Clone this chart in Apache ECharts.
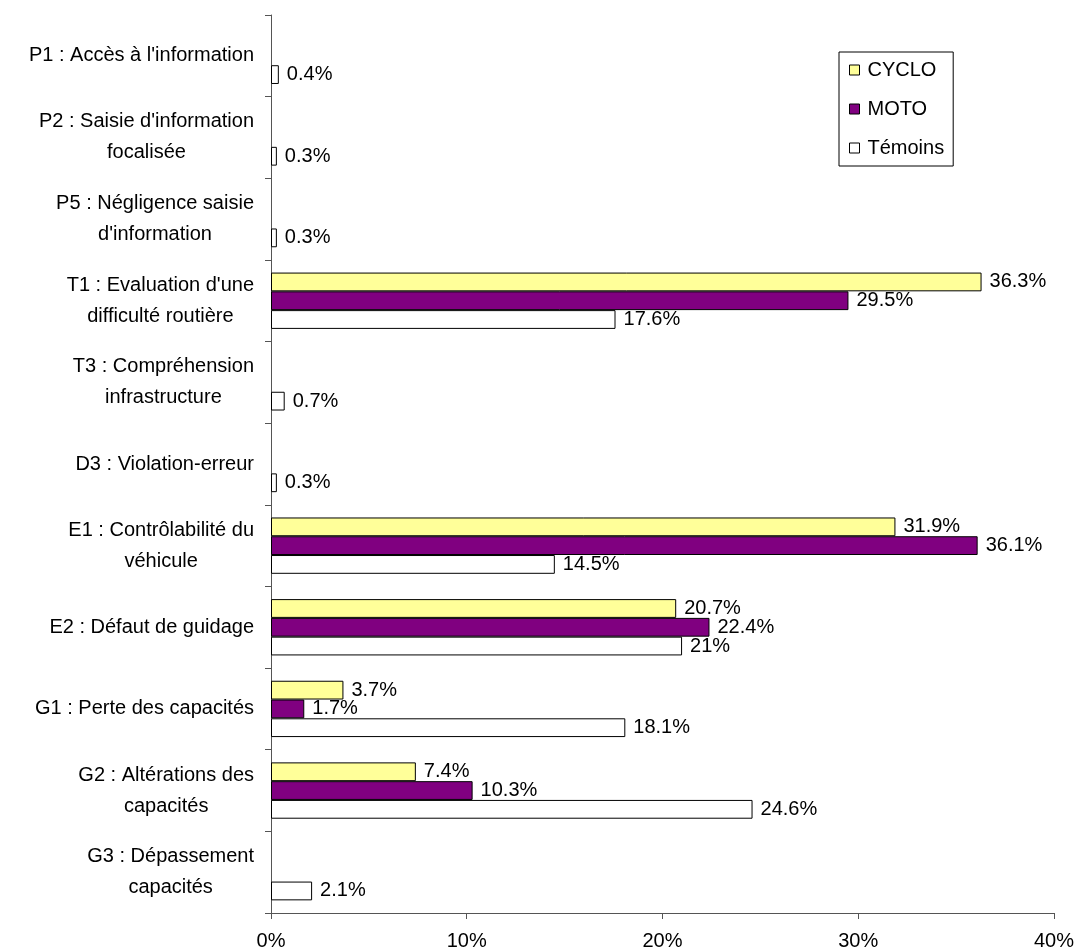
<!DOCTYPE html>
<html>
<head>
<meta charset="utf-8">
<script src="https://cdn.jsdelivr.net/npm/echarts@6/dist/echarts.min.js"></script>
<style>
html,body{margin:0;padding:0;background:#fff;}
#chart{width:1077px;height:952px;}
</style>
</head>
<body>
<div id="chart"></div>
<script>
var categories = [
  "P1 : Accès à l'information",
  "P2 : Saisie d'information\nfocalisée",
  "P5 : Négligence saisie\nd'information",
  "T1 : Evaluation d'une\ndifficulté routière",
  "T3 : Compréhension\ninfrastructure",
  "D3 : Violation-erreur",
  "E1 : Contrôlabilité du\nvéhicule",
  "E2 : Défaut de guidage",
  "G1 : Perte des capacités",
  "G2 : Altérations des\ncapacités",
  "G3 : Dépassement\ncapacités"
];
var cyclo   = [null, null, null, 36.3, null, null, 31.9, 20.7, 3.7, 7.4, null];
var moto    = [null, null, null, 29.5, null, null, 36.1, 22.4, 1.7, 10.3, null];
var temoins = [0.4, 0.3, 0.3, 17.6, 0.7, 0.3, 14.5, 21, 18.1, 24.6, 2.1];
var xTicks = [0, 10, 20, 30, 40];

var FONT = "'Liberation Sans', Arial, sans-serif";
var chart = echarts.init(document.getElementById('chart'), null, {renderer: 'canvas'});

function mkSeries(name, data, color) {
  return {
    name: name,
    type: 'bar',
    data: data,
    barGap: '0%',
    barCategoryGap: '31%',
    itemStyle: {color: color, borderColor: '#000', borderWidth: 1},
    label: {
      show: true,
      position: 'right',
      distance: 8,
      fontSize: 20,
      fontFamily: FONT,
      color: '#000',
      formatter: function (p) { return p.value + '%'; }
    },
    emphasis: {disabled: true},
    animation: false
  };
}

chart.setOption({
  animation: false,
  backgroundColor: '#fff',
  grid: {left: 271, right: 21, top: 15, bottom: 39, containLabel: false},
  legend: {
    orient: 'vertical',
    left: 839,
    top: 52,
    padding: [8, 9, 8, 10],
    itemWidth: 10,
    itemHeight: 10,
    itemGap: 19,
    borderColor: '#000',
    borderWidth: 1,
    icon: 'rect',
    selectedMode: false,
    itemStyle: {borderColor: '#000', borderWidth: 1},
    textStyle: {fontSize: 20, lineHeight: 20, fontFamily: FONT, color: '#000', padding: [0, 0, 0, 3]},
    data: ['CYCLO', 'MOTO', 'Témoins']
  },
  xAxis: {
    type: 'value',
    min: xTicks[0],
    max: xTicks[xTicks.length - 1],
    interval: 10,
    axisLine: {show: true, lineStyle: {color: '#555', width: 1}},
    axisTick: {show: true, length: 6, lineStyle: {color: '#555'}},
    splitLine: {show: false},
    axisLabel: {
      margin: 18,
      fontSize: 20,
      fontFamily: FONT,
      color: '#000',
      formatter: function (v) { return v + '%'; }
    }
  },
  yAxis: {
    type: 'category',
    data: categories,
    inverse: true,
    boundaryGap: true,
    axisLine: {show: true, lineStyle: {color: '#555', width: 1}},
    axisTick: {show: true, length: 6, lineStyle: {color: '#555'}},
    axisLabel: {
      interval: 0,
      margin: 17,
      fontSize: 20,
      fontFamily: FONT,
      color: '#000',
      formatter: function (v) {
        return v.split('\n').map(function (s) { return '{c|' + s + '}'; }).join('\n');
      },
      rich: {
        c: {align: 'center', fontSize: 20, lineHeight: 31, fontFamily: FONT, color: '#000'}
      }
    }
  },
  series: [
    mkSeries('CYCLO', cyclo, '#FFFF99'),
    mkSeries('MOTO', moto, '#800080'),
    mkSeries('Témoins', temoins, '#FFFFFF')
  ]
});
</script>
</body>
</html>
